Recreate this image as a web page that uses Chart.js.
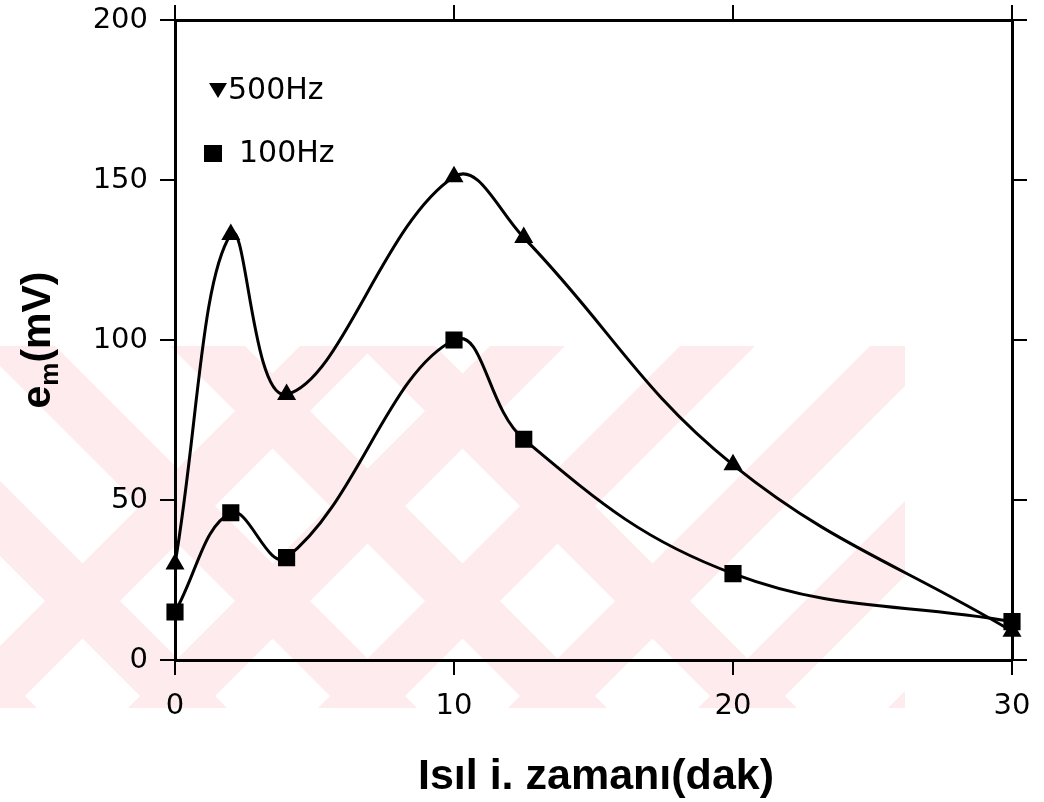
<!DOCTYPE html>
<html>
<head>
<meta charset="utf-8">
<script src="https://cdn.jsdelivr.net/npm/chart.js@4/dist/chart.umd.min.js"></script>
<style>
  html, body { margin: 0; padding: 0; background: #fff; }
  #grafica { display: block; }
</style>
</head>
<body>
<canvas id="grafica" width="1044" height="802"></canvas>
<script>
// valores
const tiempos = [0, 2, 4, 10, 12.5, 20, 30];
const em500 = [30, 133, 83, 151, 132, 61, 9];
const em100 = [15, 46, 32, 100, 69, 27, 12];
const ticksX = [0, 10, 20, 30];
const ticksY = [0, 50, 100, 150, 200];
const tituloX = "Isıl i. zamanı(dak)";
const etiquetas = ["500Hz", "100Hz"];

const puntos = serie => tiempos.map((t, i) => ({ x: t, y: serie[i] }));

const fuenteTicks = { family: "DejaVu Sans", size: 29 };
const grid = { drawOnChartArea: false, tickLength: 15, color: "#000", lineWidth: 2 };
const borde = { display: true, color: "#000", width: 3 };

// marca de agua rosa del fondo
const marcaAgua = {
  id: "marcaAgua",
  beforeDraw(chart) {
    const ctx = chart.ctx;
    ctx.save();
    ctx.beginPath();
    ctx.rect(0, 346, 905, 362);
    ctx.clip();
    ctx.fillStyle = "#fdebee";
    const ancho = 75;
    ctx.beginPath();
    for (let k = -400; k < 500; k += 190) {
      ctx.moveTo(k, 346);
      ctx.lineTo(k + ancho, 346);
      ctx.lineTo(k + ancho + 362, 708);
      ctx.lineTo(k + 362, 708);
      ctx.closePath();
    }
    for (let k = 300; k < 1300; k += 190) {
      ctx.moveTo(k, 346);
      ctx.lineTo(k + ancho, 346);
      ctx.lineTo(k + ancho - 362, 708);
      ctx.lineTo(k - 362, 708);
      ctx.closePath();
    }
    ctx.fill("nonzero");
    ctx.restore();
  }
};

// titulos de ejes y leyenda
const textos = {
  id: "textos",
  afterDraw(chart) {
    const ctx = chart.ctx;
    ctx.save();
    ctx.fillStyle = "#000";

    ctx.font = "bold 43px 'Liberation Sans'";
    ctx.textAlign = "center";
    ctx.textBaseline = "alphabetic";
    ctx.fillText(tituloX, 596, 789);

    // e_m(mV) girado
    ctx.translate(50, 340);
    ctx.rotate(-Math.PI / 2);
    ctx.textAlign = "left";
    const f1 = "bold 41px 'Liberation Sans'";
    const f2 = "bold 26px 'Liberation Sans'";
    ctx.font = f1;
    const wE = ctx.measureText("e").width;
    ctx.font = f2;
    const wM = ctx.measureText("m").width;
    ctx.font = f1;
    const wR = ctx.measureText("(mV)").width;
    let x0 = -(wE + wM + wR) / 2;
    ctx.fillText("e", x0, 0);
    ctx.font = f2;
    ctx.fillText("m", x0 + wE, 8);
    ctx.font = f1;
    ctx.fillText("(mV)", x0 + wE + wM, 0);
    ctx.setTransform(1, 0, 0, 1, 0, 0);

    // leyenda
    ctx.font = "30px 'DejaVu Sans'";
    ctx.textBaseline = "middle";
    ctx.fillText(etiquetas[0], 228, 91);
    ctx.fillText(etiquetas[1], 239, 154);
    ctx.beginPath();
    ctx.moveTo(209, 83);
    ctx.lineTo(227, 83);
    ctx.lineTo(218, 98);
    ctx.closePath();
    ctx.fill();
    ctx.fillRect(204, 145, 18, 17);
    ctx.restore();
  }
};

new Chart(document.getElementById("grafica"), {
  type: "line",
  data: {
    datasets: [
      {
        label: etiquetas[0],
        data: puntos(em500),
        borderColor: "#000",
        backgroundColor: "#000",
        borderWidth: 3,
        tension: 0.4,
        pointStyle: "triangle",
        pointRadius: 8,
        clip: false
      },
      {
        label: etiquetas[1],
        data: puntos(em100),
        borderColor: "#000",
        backgroundColor: "#000",
        borderWidth: 3,
        tension: 0.4,
        pointStyle: "rect",
        pointRadius: 10,
        clip: false
      }
    ]
  },
  options: {
    responsive: false,
    animation: false,
    layout: { padding: 0 },
    plugins: {
      legend: { display: false },
      tooltip: { enabled: false }
    },
    scales: {
      x: {
        type: "linear",
        position: "bottom",
        min: 0,
        max: 30,
        afterBuildTicks: s => { s.ticks = ticksX.map(v => ({ value: v })); },
        afterFit: s => { s.height = 142; s.paddingLeft = 0; s.paddingRight = 0; },
        ticks: { font: fuenteTicks, color: "#000", padding: 14, maxRotation: 0 },
        grid: grid,
        border: borde
      },
      x2: {
        type: "linear",
        position: "top",
        min: 0,
        max: 30,
        afterBuildTicks: s => { s.ticks = ticksX.map(v => ({ value: v })); },
        afterFit: s => { s.height = 20; s.paddingLeft = 0; s.paddingRight = 0; },
        ticks: { display: false },
        grid: grid,
        border: borde
      },
      y: {
        type: "linear",
        position: "left",
        min: 0,
        max: 200,
        afterBuildTicks: s => { s.ticks = ticksY.map(v => ({ value: v })); },
        afterFit: s => { s.width = 175; s.paddingTop = 0; s.paddingBottom = 0; },
        ticks: { font: fuenteTicks, color: "#000", padding: 12 },
        grid: grid,
        border: borde
      },
      y2: {
        type: "linear",
        position: "right",
        min: 0,
        max: 200,
        afterBuildTicks: s => { s.ticks = ticksY.map(v => ({ value: v })); },
        afterFit: s => { s.width = 32; s.paddingTop = 0; s.paddingBottom = 0; },
        ticks: { display: false },
        grid: grid,
        border: borde
      }
    }
  },
  plugins: [marcaAgua, textos]
});
</script>
</body>
</html>
